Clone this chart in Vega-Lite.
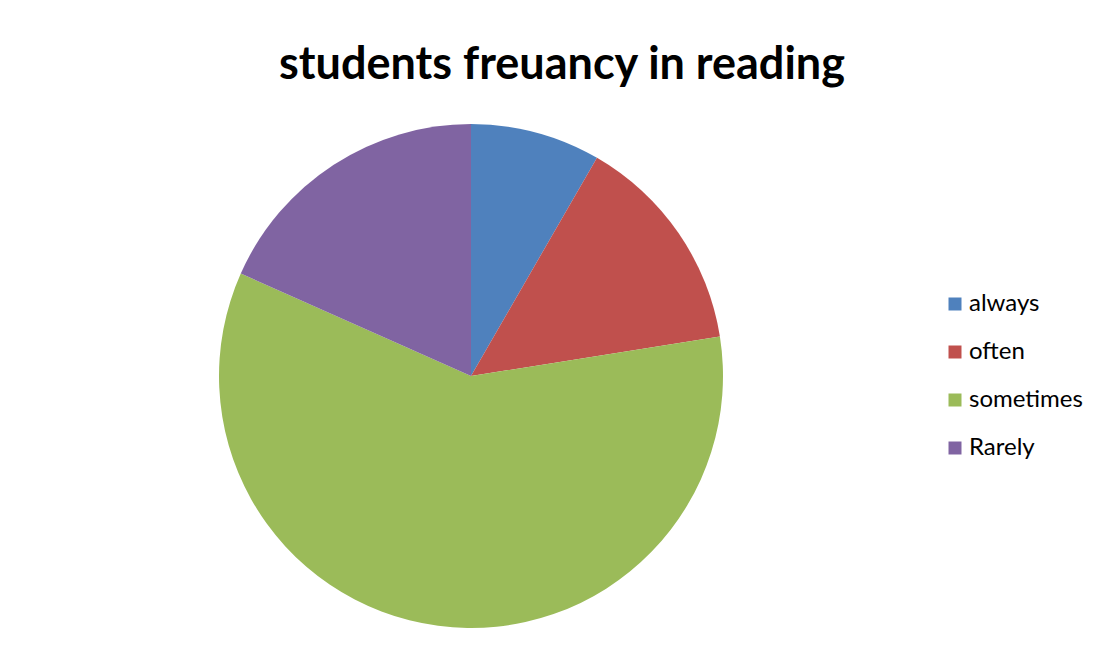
{
  "$schema": "https://vega.github.io/schema/vega-lite/v6.json",
  "autosize": {"type": "none"},
  "width": 504,
  "height": 504,
  "padding": {"left": 219, "top": 124, "right": 380, "bottom": 21},
  "background": "white",
  "config": {"view": {"stroke": null}},
  "title": {
    "text": "students freuancy in reading",
    "font": "Lato",
    "fontSize": 45,
    "fontWeight": "bold",
    "color": "black",
    "anchor": "middle",
    "dx": 91,
    "offset": 36
  },
  "data": {
    "values": [
      {"category": "always", "value": 10, "rank": 1},
      {"category": "often", "value": 17, "rank": 2},
      {"category": "sometimes", "value": 71, "rank": 3},
      {"category": "Rarely", "value": 22, "rank": 4}
    ]
  },
  "mark": {"type": "arc", "outerRadius": 252},
  "encoding": {
    "theta": {"field": "value", "type": "quantitative", "stack": true},
    "order": {"field": "rank", "type": "quantitative"},
    "color": {
      "field": "category",
      "type": "nominal",
      "sort": ["always", "often", "sometimes", "Rarely"],
      "scale": {
        "domain": ["always", "often", "sometimes", "Rarely"],
        "range": ["#4F81BD", "#C0504D", "#9BBB59", "#8064A2"]
      },
      "legend": {
        "title": null,
        "orient": "none",
        "legendX": 724,
        "legendY": 168,
        "symbolType": "square",
        "symbolSize": 169,
        "symbolStrokeWidth": 0,
        "labelFont": "Lato",
        "labelFontSize": 24,
        "labelColor": "black",
        "rowPadding": 24,
        "labelOffset": 2
      }
    }
  }
}
